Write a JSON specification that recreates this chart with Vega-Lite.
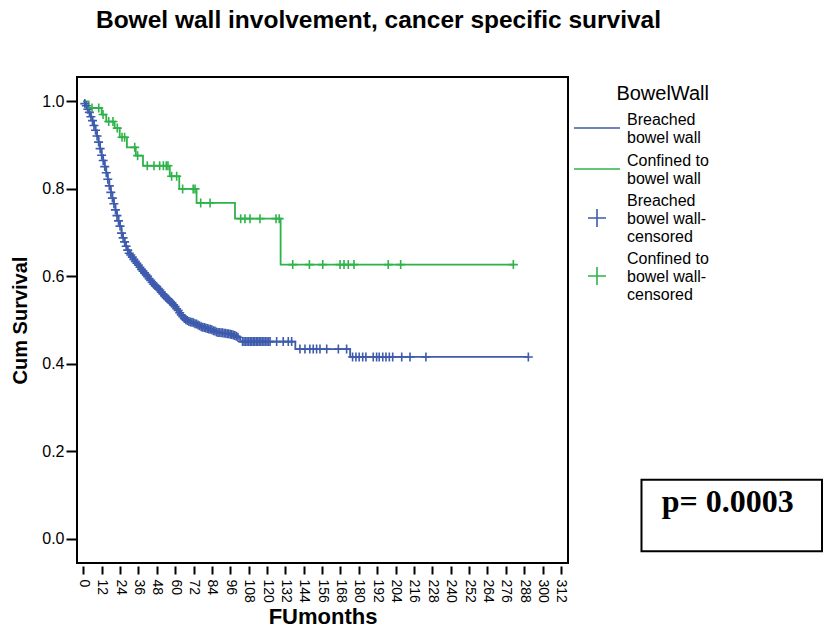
{
  "$schema": "https://vega.github.io/schema/vega-lite/v6.json",
  "autosize": "none",
  "padding": {"left": 77, "top": 77, "right": 256, "bottom": 70},
  "width": 491,
  "height": 486,
  "background": "white",
  "title": {
    "text": "Bowel wall involvement, cancer specific survival",
    "font": "Liberation Sans",
    "fontSize": 24.5,
    "fontWeight": "bold",
    "color": "black",
    "anchor": "middle",
    "dx": 56,
    "offset": 44
  },
  "config": {
    "view": {"stroke": "black", "strokeWidth": 2},
    "axis": {
      "domain": false,
      "grid": false,
      "tickColor": "black",
      "tickWidth": 2,
      "labelColor": "black",
      "titleColor": "black",
      "labelFont": "Liberation Sans",
      "titleFont": "Liberation Sans",
      "titleFontWeight": "bold"
    },
    "legend": {
      "titleFont": "Liberation Sans", "titleFontSize": 20, "titleFontWeight": "normal", "titleColor": "black",
      "labelFont": "Liberation Sans", "labelFontSize": 16, "labelColor": "black"
    }
  },
  "datasets": {
    "lines": [
      {"series": "Breached bowel wall", "t": 0, "s": 1.0},
      {"series": "Breached bowel wall", "t": 1, "s": 0.995},
      {"series": "Breached bowel wall", "t": 2, "s": 0.99},
      {"series": "Breached bowel wall", "t": 3, "s": 0.982},
      {"series": "Breached bowel wall", "t": 4, "s": 0.975},
      {"series": "Breached bowel wall", "t": 5, "s": 0.965},
      {"series": "Breached bowel wall", "t": 6, "s": 0.956},
      {"series": "Breached bowel wall", "t": 7, "s": 0.945},
      {"series": "Breached bowel wall", "t": 8, "s": 0.934},
      {"series": "Breached bowel wall", "t": 9, "s": 0.921},
      {"series": "Breached bowel wall", "t": 10, "s": 0.907},
      {"series": "Breached bowel wall", "t": 11, "s": 0.892},
      {"series": "Breached bowel wall", "t": 12, "s": 0.877},
      {"series": "Breached bowel wall", "t": 13, "s": 0.865},
      {"series": "Breached bowel wall", "t": 14, "s": 0.851},
      {"series": "Breached bowel wall", "t": 15, "s": 0.837},
      {"series": "Breached bowel wall", "t": 16, "s": 0.822},
      {"series": "Breached bowel wall", "t": 17, "s": 0.807},
      {"series": "Breached bowel wall", "t": 18, "s": 0.792},
      {"series": "Breached bowel wall", "t": 19, "s": 0.779},
      {"series": "Breached bowel wall", "t": 20, "s": 0.766},
      {"series": "Breached bowel wall", "t": 21, "s": 0.752},
      {"series": "Breached bowel wall", "t": 22, "s": 0.739},
      {"series": "Breached bowel wall", "t": 23, "s": 0.727},
      {"series": "Breached bowel wall", "t": 24, "s": 0.715},
      {"series": "Breached bowel wall", "t": 25, "s": 0.699},
      {"series": "Breached bowel wall", "t": 26, "s": 0.688},
      {"series": "Breached bowel wall", "t": 27, "s": 0.679},
      {"series": "Breached bowel wall", "t": 28, "s": 0.669},
      {"series": "Breached bowel wall", "t": 29, "s": 0.66},
      {"series": "Breached bowel wall", "t": 30, "s": 0.653},
      {"series": "Breached bowel wall", "t": 31, "s": 0.649},
      {"series": "Breached bowel wall", "t": 32, "s": 0.644},
      {"series": "Breached bowel wall", "t": 33, "s": 0.639},
      {"series": "Breached bowel wall", "t": 34, "s": 0.634},
      {"series": "Breached bowel wall", "t": 35, "s": 0.63},
      {"series": "Breached bowel wall", "t": 36, "s": 0.626},
      {"series": "Breached bowel wall", "t": 37, "s": 0.621},
      {"series": "Breached bowel wall", "t": 38, "s": 0.616},
      {"series": "Breached bowel wall", "t": 39, "s": 0.612},
      {"series": "Breached bowel wall", "t": 40, "s": 0.608},
      {"series": "Breached bowel wall", "t": 41, "s": 0.604},
      {"series": "Breached bowel wall", "t": 42, "s": 0.6},
      {"series": "Breached bowel wall", "t": 43, "s": 0.595},
      {"series": "Breached bowel wall", "t": 44, "s": 0.591},
      {"series": "Breached bowel wall", "t": 45, "s": 0.586},
      {"series": "Breached bowel wall", "t": 46, "s": 0.582},
      {"series": "Breached bowel wall", "t": 47, "s": 0.579},
      {"series": "Breached bowel wall", "t": 48, "s": 0.576},
      {"series": "Breached bowel wall", "t": 49, "s": 0.572},
      {"series": "Breached bowel wall", "t": 50, "s": 0.569},
      {"series": "Breached bowel wall", "t": 51, "s": 0.564},
      {"series": "Breached bowel wall", "t": 52, "s": 0.56},
      {"series": "Breached bowel wall", "t": 53, "s": 0.556},
      {"series": "Breached bowel wall", "t": 54, "s": 0.552},
      {"series": "Breached bowel wall", "t": 55, "s": 0.549},
      {"series": "Breached bowel wall", "t": 56, "s": 0.546},
      {"series": "Breached bowel wall", "t": 57, "s": 0.542},
      {"series": "Breached bowel wall", "t": 58, "s": 0.539},
      {"series": "Breached bowel wall", "t": 59, "s": 0.535},
      {"series": "Breached bowel wall", "t": 60, "s": 0.531},
      {"series": "Breached bowel wall", "t": 61, "s": 0.526},
      {"series": "Breached bowel wall", "t": 62, "s": 0.522},
      {"series": "Breached bowel wall", "t": 63, "s": 0.517},
      {"series": "Breached bowel wall", "t": 64, "s": 0.512},
      {"series": "Breached bowel wall", "t": 65, "s": 0.508},
      {"series": "Breached bowel wall", "t": 66, "s": 0.504},
      {"series": "Breached bowel wall", "t": 67, "s": 0.501},
      {"series": "Breached bowel wall", "t": 68, "s": 0.499},
      {"series": "Breached bowel wall", "t": 69, "s": 0.497},
      {"series": "Breached bowel wall", "t": 70, "s": 0.496},
      {"series": "Breached bowel wall", "t": 71, "s": 0.495},
      {"series": "Breached bowel wall", "t": 72, "s": 0.494},
      {"series": "Breached bowel wall", "t": 73, "s": 0.492},
      {"series": "Breached bowel wall", "t": 74, "s": 0.491},
      {"series": "Breached bowel wall", "t": 75, "s": 0.489},
      {"series": "Breached bowel wall", "t": 76, "s": 0.487},
      {"series": "Breached bowel wall", "t": 77, "s": 0.485},
      {"series": "Breached bowel wall", "t": 78, "s": 0.484},
      {"series": "Breached bowel wall", "t": 79, "s": 0.483},
      {"series": "Breached bowel wall", "t": 80, "s": 0.482},
      {"series": "Breached bowel wall", "t": 81, "s": 0.481},
      {"series": "Breached bowel wall", "t": 82, "s": 0.48},
      {"series": "Breached bowel wall", "t": 83, "s": 0.479},
      {"series": "Breached bowel wall", "t": 84, "s": 0.478},
      {"series": "Breached bowel wall", "t": 85, "s": 0.476},
      {"series": "Breached bowel wall", "t": 86, "s": 0.475},
      {"series": "Breached bowel wall", "t": 87, "s": 0.473},
      {"series": "Breached bowel wall", "t": 88, "s": 0.472},
      {"series": "Breached bowel wall", "t": 90, "s": 0.471},
      {"series": "Breached bowel wall", "t": 92, "s": 0.47},
      {"series": "Breached bowel wall", "t": 94, "s": 0.469},
      {"series": "Breached bowel wall", "t": 96, "s": 0.468},
      {"series": "Breached bowel wall", "t": 97, "s": 0.467},
      {"series": "Breached bowel wall", "t": 98, "s": 0.466},
      {"series": "Breached bowel wall", "t": 99, "s": 0.465},
      {"series": "Breached bowel wall", "t": 100, "s": 0.463},
      {"series": "Breached bowel wall", "t": 101, "s": 0.461},
      {"series": "Breached bowel wall", "t": 102, "s": 0.458},
      {"series": "Breached bowel wall", "t": 102.5, "s": 0.451},
      {"series": "Breached bowel wall", "t": 138.5, "s": 0.434},
      {"series": "Breached bowel wall", "t": 174.3, "s": 0.416},
      {"series": "Breached bowel wall", "t": 291, "s": 0.416},
      {"series": "Confined to bowel wall", "t": 0, "s": 1.0},
      {"series": "Confined to bowel wall", "t": 3.5, "s": 0.985},
      {"series": "Confined to bowel wall", "t": 12, "s": 0.97},
      {"series": "Confined to bowel wall", "t": 15, "s": 0.954},
      {"series": "Confined to bowel wall", "t": 20.5, "s": 0.939},
      {"series": "Confined to bowel wall", "t": 23.8, "s": 0.918},
      {"series": "Confined to bowel wall", "t": 28.5, "s": 0.895},
      {"series": "Confined to bowel wall", "t": 34.3, "s": 0.876},
      {"series": "Confined to bowel wall", "t": 39, "s": 0.853},
      {"series": "Confined to bowel wall", "t": 56.5, "s": 0.829},
      {"series": "Confined to bowel wall", "t": 62.7, "s": 0.8},
      {"series": "Confined to bowel wall", "t": 74, "s": 0.768},
      {"series": "Confined to bowel wall", "t": 99.1, "s": 0.732},
      {"series": "Confined to bowel wall", "t": 128.9, "s": 0.627},
      {"series": "Confined to bowel wall", "t": 281, "s": 0.627}
    ],
    "censored": [
      {"series": "Breached bowel wall-censored", "t": 1, "s": 0.995},
      {"series": "Breached bowel wall-censored", "t": 2, "s": 0.99},
      {"series": "Breached bowel wall-censored", "t": 3, "s": 0.982},
      {"series": "Breached bowel wall-censored", "t": 4, "s": 0.975},
      {"series": "Breached bowel wall-censored", "t": 5, "s": 0.965},
      {"series": "Breached bowel wall-censored", "t": 6, "s": 0.956},
      {"series": "Breached bowel wall-censored", "t": 7, "s": 0.945},
      {"series": "Breached bowel wall-censored", "t": 8, "s": 0.934},
      {"series": "Breached bowel wall-censored", "t": 9, "s": 0.921},
      {"series": "Breached bowel wall-censored", "t": 10, "s": 0.907},
      {"series": "Breached bowel wall-censored", "t": 11, "s": 0.892},
      {"series": "Breached bowel wall-censored", "t": 12, "s": 0.877},
      {"series": "Breached bowel wall-censored", "t": 13, "s": 0.865},
      {"series": "Breached bowel wall-censored", "t": 14, "s": 0.851},
      {"series": "Breached bowel wall-censored", "t": 15, "s": 0.837},
      {"series": "Breached bowel wall-censored", "t": 16, "s": 0.822},
      {"series": "Breached bowel wall-censored", "t": 17, "s": 0.807},
      {"series": "Breached bowel wall-censored", "t": 18, "s": 0.792},
      {"series": "Breached bowel wall-censored", "t": 19, "s": 0.779},
      {"series": "Breached bowel wall-censored", "t": 20, "s": 0.766},
      {"series": "Breached bowel wall-censored", "t": 21, "s": 0.752},
      {"series": "Breached bowel wall-censored", "t": 22, "s": 0.739},
      {"series": "Breached bowel wall-censored", "t": 23, "s": 0.727},
      {"series": "Breached bowel wall-censored", "t": 24, "s": 0.715},
      {"series": "Breached bowel wall-censored", "t": 25, "s": 0.699},
      {"series": "Breached bowel wall-censored", "t": 26, "s": 0.688},
      {"series": "Breached bowel wall-censored", "t": 27, "s": 0.679},
      {"series": "Breached bowel wall-censored", "t": 28, "s": 0.669},
      {"series": "Breached bowel wall-censored", "t": 29, "s": 0.66},
      {"series": "Breached bowel wall-censored", "t": 30, "s": 0.653},
      {"series": "Breached bowel wall-censored", "t": 31, "s": 0.649},
      {"series": "Breached bowel wall-censored", "t": 32, "s": 0.644},
      {"series": "Breached bowel wall-censored", "t": 33, "s": 0.639},
      {"series": "Breached bowel wall-censored", "t": 34, "s": 0.634},
      {"series": "Breached bowel wall-censored", "t": 35, "s": 0.63},
      {"series": "Breached bowel wall-censored", "t": 36, "s": 0.626},
      {"series": "Breached bowel wall-censored", "t": 37, "s": 0.621},
      {"series": "Breached bowel wall-censored", "t": 38, "s": 0.616},
      {"series": "Breached bowel wall-censored", "t": 39, "s": 0.612},
      {"series": "Breached bowel wall-censored", "t": 40, "s": 0.608},
      {"series": "Breached bowel wall-censored", "t": 41, "s": 0.604},
      {"series": "Breached bowel wall-censored", "t": 42, "s": 0.6},
      {"series": "Breached bowel wall-censored", "t": 43, "s": 0.595},
      {"series": "Breached bowel wall-censored", "t": 44, "s": 0.591},
      {"series": "Breached bowel wall-censored", "t": 45, "s": 0.586},
      {"series": "Breached bowel wall-censored", "t": 46, "s": 0.582},
      {"series": "Breached bowel wall-censored", "t": 47, "s": 0.579},
      {"series": "Breached bowel wall-censored", "t": 48, "s": 0.576},
      {"series": "Breached bowel wall-censored", "t": 49, "s": 0.572},
      {"series": "Breached bowel wall-censored", "t": 50, "s": 0.569},
      {"series": "Breached bowel wall-censored", "t": 51, "s": 0.564},
      {"series": "Breached bowel wall-censored", "t": 52, "s": 0.56},
      {"series": "Breached bowel wall-censored", "t": 53, "s": 0.556},
      {"series": "Breached bowel wall-censored", "t": 54, "s": 0.552},
      {"series": "Breached bowel wall-censored", "t": 55, "s": 0.549},
      {"series": "Breached bowel wall-censored", "t": 56, "s": 0.546},
      {"series": "Breached bowel wall-censored", "t": 57, "s": 0.542},
      {"series": "Breached bowel wall-censored", "t": 58, "s": 0.539},
      {"series": "Breached bowel wall-censored", "t": 59, "s": 0.535},
      {"series": "Breached bowel wall-censored", "t": 60, "s": 0.531},
      {"series": "Breached bowel wall-censored", "t": 61, "s": 0.526},
      {"series": "Breached bowel wall-censored", "t": 62, "s": 0.522},
      {"series": "Breached bowel wall-censored", "t": 63, "s": 0.517},
      {"series": "Breached bowel wall-censored", "t": 64, "s": 0.512},
      {"series": "Breached bowel wall-censored", "t": 65, "s": 0.508},
      {"series": "Breached bowel wall-censored", "t": 66, "s": 0.504},
      {"series": "Breached bowel wall-censored", "t": 67, "s": 0.501},
      {"series": "Breached bowel wall-censored", "t": 68, "s": 0.499},
      {"series": "Breached bowel wall-censored", "t": 69, "s": 0.497},
      {"series": "Breached bowel wall-censored", "t": 70, "s": 0.496},
      {"series": "Breached bowel wall-censored", "t": 71, "s": 0.495},
      {"series": "Breached bowel wall-censored", "t": 72, "s": 0.494},
      {"series": "Breached bowel wall-censored", "t": 73, "s": 0.492},
      {"series": "Breached bowel wall-censored", "t": 74, "s": 0.491},
      {"series": "Breached bowel wall-censored", "t": 75, "s": 0.489},
      {"series": "Breached bowel wall-censored", "t": 76, "s": 0.487},
      {"series": "Breached bowel wall-censored", "t": 77, "s": 0.485},
      {"series": "Breached bowel wall-censored", "t": 78, "s": 0.484},
      {"series": "Breached bowel wall-censored", "t": 79, "s": 0.483},
      {"series": "Breached bowel wall-censored", "t": 80, "s": 0.482},
      {"series": "Breached bowel wall-censored", "t": 81, "s": 0.481},
      {"series": "Breached bowel wall-censored", "t": 82, "s": 0.48},
      {"series": "Breached bowel wall-censored", "t": 83, "s": 0.479},
      {"series": "Breached bowel wall-censored", "t": 84, "s": 0.478},
      {"series": "Breached bowel wall-censored", "t": 85, "s": 0.476},
      {"series": "Breached bowel wall-censored", "t": 86, "s": 0.475},
      {"series": "Breached bowel wall-censored", "t": 87, "s": 0.473},
      {"series": "Breached bowel wall-censored", "t": 88, "s": 0.472},
      {"series": "Breached bowel wall-censored", "t": 89, "s": 0.472},
      {"series": "Breached bowel wall-censored", "t": 90, "s": 0.471},
      {"series": "Breached bowel wall-censored", "t": 91, "s": 0.471},
      {"series": "Breached bowel wall-censored", "t": 92, "s": 0.47},
      {"series": "Breached bowel wall-censored", "t": 93, "s": 0.47},
      {"series": "Breached bowel wall-censored", "t": 94, "s": 0.469},
      {"series": "Breached bowel wall-censored", "t": 95, "s": 0.469},
      {"series": "Breached bowel wall-censored", "t": 96, "s": 0.468},
      {"series": "Breached bowel wall-censored", "t": 97, "s": 0.467},
      {"series": "Breached bowel wall-censored", "t": 98, "s": 0.466},
      {"series": "Breached bowel wall-censored", "t": 99, "s": 0.465},
      {"series": "Breached bowel wall-censored", "t": 100, "s": 0.463},
      {"series": "Breached bowel wall-censored", "t": 101, "s": 0.461},
      {"series": "Breached bowel wall-censored", "t": 104, "s": 0.451},
      {"series": "Breached bowel wall-censored", "t": 105, "s": 0.451},
      {"series": "Breached bowel wall-censored", "t": 106, "s": 0.451},
      {"series": "Breached bowel wall-censored", "t": 107, "s": 0.451},
      {"series": "Breached bowel wall-censored", "t": 108, "s": 0.451},
      {"series": "Breached bowel wall-censored", "t": 109, "s": 0.451},
      {"series": "Breached bowel wall-censored", "t": 110, "s": 0.451},
      {"series": "Breached bowel wall-censored", "t": 111, "s": 0.451},
      {"series": "Breached bowel wall-censored", "t": 112, "s": 0.451},
      {"series": "Breached bowel wall-censored", "t": 113, "s": 0.451},
      {"series": "Breached bowel wall-censored", "t": 114, "s": 0.451},
      {"series": "Breached bowel wall-censored", "t": 115, "s": 0.451},
      {"series": "Breached bowel wall-censored", "t": 116, "s": 0.451},
      {"series": "Breached bowel wall-censored", "t": 117, "s": 0.451},
      {"series": "Breached bowel wall-censored", "t": 118, "s": 0.451},
      {"series": "Breached bowel wall-censored", "t": 119, "s": 0.451},
      {"series": "Breached bowel wall-censored", "t": 120, "s": 0.451},
      {"series": "Breached bowel wall-censored", "t": 121, "s": 0.451},
      {"series": "Breached bowel wall-censored", "t": 122, "s": 0.451},
      {"series": "Breached bowel wall-censored", "t": 126.3, "s": 0.451},
      {"series": "Breached bowel wall-censored", "t": 130.6, "s": 0.451},
      {"series": "Breached bowel wall-censored", "t": 133.9, "s": 0.451},
      {"series": "Breached bowel wall-censored", "t": 136.1, "s": 0.451},
      {"series": "Breached bowel wall-censored", "t": 141.5, "s": 0.434},
      {"series": "Breached bowel wall-censored", "t": 144.8, "s": 0.434},
      {"series": "Breached bowel wall-censored", "t": 148, "s": 0.434},
      {"series": "Breached bowel wall-censored", "t": 150.2, "s": 0.434},
      {"series": "Breached bowel wall-censored", "t": 152.4, "s": 0.434},
      {"series": "Breached bowel wall-censored", "t": 154.6, "s": 0.434},
      {"series": "Breached bowel wall-censored", "t": 159, "s": 0.434},
      {"series": "Breached bowel wall-censored", "t": 166.6, "s": 0.434},
      {"series": "Breached bowel wall-censored", "t": 172, "s": 0.434},
      {"series": "Breached bowel wall-censored", "t": 175.9, "s": 0.416},
      {"series": "Breached bowel wall-censored", "t": 178.1, "s": 0.416},
      {"series": "Breached bowel wall-censored", "t": 180.2, "s": 0.416},
      {"series": "Breached bowel wall-censored", "t": 182.5, "s": 0.416},
      {"series": "Breached bowel wall-censored", "t": 184.6, "s": 0.416},
      {"series": "Breached bowel wall-censored", "t": 189.4, "s": 0.416},
      {"series": "Breached bowel wall-censored", "t": 191.6, "s": 0.416},
      {"series": "Breached bowel wall-censored", "t": 193.3, "s": 0.416},
      {"series": "Breached bowel wall-censored", "t": 195.6, "s": 0.416},
      {"series": "Breached bowel wall-censored", "t": 197.7, "s": 0.416},
      {"series": "Breached bowel wall-censored", "t": 199.9, "s": 0.416},
      {"series": "Breached bowel wall-censored", "t": 202.1, "s": 0.416},
      {"series": "Breached bowel wall-censored", "t": 208, "s": 0.416},
      {"series": "Breached bowel wall-censored", "t": 213.4, "s": 0.416},
      {"series": "Breached bowel wall-censored", "t": 223.8, "s": 0.416},
      {"series": "Breached bowel wall-censored", "t": 290.7, "s": 0.416},
      {"series": "Confined to bowel wall-censored", "t": 5.7, "s": 0.985},
      {"series": "Confined to bowel wall-censored", "t": 10.1, "s": 0.985},
      {"series": "Confined to bowel wall-censored", "t": 12.9, "s": 0.97},
      {"series": "Confined to bowel wall-censored", "t": 16.6, "s": 0.954},
      {"series": "Confined to bowel wall-censored", "t": 19.4, "s": 0.954},
      {"series": "Confined to bowel wall-censored", "t": 22.2, "s": 0.939},
      {"series": "Confined to bowel wall-censored", "t": 25.3, "s": 0.918},
      {"series": "Confined to bowel wall-censored", "t": 27, "s": 0.918},
      {"series": "Confined to bowel wall-censored", "t": 33.6, "s": 0.895},
      {"series": "Confined to bowel wall-censored", "t": 35.5, "s": 0.876},
      {"series": "Confined to bowel wall-censored", "t": 41.8, "s": 0.853},
      {"series": "Confined to bowel wall-censored", "t": 46.2, "s": 0.853},
      {"series": "Confined to bowel wall-censored", "t": 49.9, "s": 0.853},
      {"series": "Confined to bowel wall-censored", "t": 52.3, "s": 0.853},
      {"series": "Confined to bowel wall-censored", "t": 54.2, "s": 0.853},
      {"series": "Confined to bowel wall-censored", "t": 55.3, "s": 0.853},
      {"series": "Confined to bowel wall-censored", "t": 57.7, "s": 0.829},
      {"series": "Confined to bowel wall-censored", "t": 61, "s": 0.829},
      {"series": "Confined to bowel wall-censored", "t": 64.9, "s": 0.8},
      {"series": "Confined to bowel wall-censored", "t": 71.8, "s": 0.8},
      {"series": "Confined to bowel wall-censored", "t": 73, "s": 0.8},
      {"series": "Confined to bowel wall-censored", "t": 76.7, "s": 0.768},
      {"series": "Confined to bowel wall-censored", "t": 82.8, "s": 0.768},
      {"series": "Confined to bowel wall-censored", "t": 102.8, "s": 0.732},
      {"series": "Confined to bowel wall-censored", "t": 105.6, "s": 0.732},
      {"series": "Confined to bowel wall-censored", "t": 108.9, "s": 0.732},
      {"series": "Confined to bowel wall-censored", "t": 115.4, "s": 0.732},
      {"series": "Confined to bowel wall-censored", "t": 125.9, "s": 0.732},
      {"series": "Confined to bowel wall-censored", "t": 128, "s": 0.732},
      {"series": "Confined to bowel wall-censored", "t": 136.8, "s": 0.627},
      {"series": "Confined to bowel wall-censored", "t": 147.7, "s": 0.627},
      {"series": "Confined to bowel wall-censored", "t": 156.4, "s": 0.627},
      {"series": "Confined to bowel wall-censored", "t": 167.7, "s": 0.627},
      {"series": "Confined to bowel wall-censored", "t": 170.3, "s": 0.627},
      {"series": "Confined to bowel wall-censored", "t": 173.1, "s": 0.627},
      {"series": "Confined to bowel wall-censored", "t": 176.8, "s": 0.627},
      {"series": "Confined to bowel wall-censored", "t": 199.2, "s": 0.627},
      {"series": "Confined to bowel wall-censored", "t": 207.3, "s": 0.627},
      {"series": "Confined to bowel wall-censored", "t": 280.9, "s": 0.627}
    ],
    "pvalue": [{"label": "p= 0.0003"}]
  },
  "layer": [
    {
      "data": {"name": "lines"},
      "mark": {"type": "line", "interpolate": "step-after", "strokeWidth": 1.8, "clip": true},
      "encoding": {
        "x": {
          "field": "t", "type": "quantitative",
          "scale": {"domain": [-4.1, 316.6], "nice": false, "zero": false},
          "axis": {
            "title": "FUmonths",
            "values": [0, 12, 24, 36, 48, 60, 72, 84, 96, 108, 120, 132, 144, 156, 168, 180, 192, 204, 216, 228, 240, 252, 264, 276, 288, 300, 312],
            "tickCount": 40,
            "labelAngle": 90, "labelAlign": "left", "labelBaseline": "middle", "labelOverlap": false,
            "labelFontSize": 14, "labelPadding": 5, "tickSize": 8, "offset": 3,
            "titleFontSize": 22, "titlePadding": 4
          }
        },
        "y": {
          "field": "s", "type": "quantitative",
          "scale": {"domain": [-0.055, 1.0558], "nice": false, "zero": false},
          "axis": {
            "title": "Cum Survival",
            "values": [0, 0.2, 0.4, 0.6, 0.8, 1.0],
            "tickCount": 10,
            "format": ".1f",
            "labelFontSize": 16, "labelPadding": 2, "tickSize": 11,
            "titleFontSize": 20, "titlePadding": 11
          }
        },
        "color": {
          "field": "series", "type": "nominal",
          "scale": {
            "domain": ["Breached bowel wall", "Confined to bowel wall", "Breached bowel wall-censored", "Confined to bowel wall-censored"],
            "range": ["#3E5BAD", "#2EB34B", "#3E5BAD", "#2EB34B"]
          },
          "legend": {
            "title": "BowelWall",
            "orient": "none", "legendX": 509, "legendY": 7,
            "titleAnchor": "end", "titlePadding": 13,
            "labelLineHeight": 17,
            "labelOffset": 19, "rowPadding": 6,
            "symbolSize": 400, "symbolStrokeWidth": 1.6,
            "labelExpr": "datum.label == 'Breached bowel wall' ? ['Breached', 'bowel wall'] : datum.label == 'Confined to bowel wall' ? ['Confined to', 'bowel wall'] : datum.label == 'Breached bowel wall-censored' ? ['Breached', 'bowel wall-', 'censored'] : ['Confined to', 'bowel wall-', 'censored']",
            "encode": {"labels": {"update": {"dy": {"signal": "indexof(datum.value, 'censored') >= 0 ? -17 : -8.5"}}}}
          }
        }
      }
    },
    {
      "data": {"name": "censored"},
      "mark": {"type": "point", "filled": false, "size": 100, "strokeWidth": 1.6, "opacity": 1, "clip": true},
      "encoding": {
        "x": {"field": "t", "type": "quantitative"},
        "y": {"field": "s", "type": "quantitative"},
        "color": {"field": "series", "type": "nominal"},
        "shape": {
          "field": "series", "type": "nominal",
          "scale": {
            "domain": ["Breached bowel wall", "Confined to bowel wall", "Breached bowel wall-censored", "Confined to bowel wall-censored"],
            "range": ["M-2.3,0H2.3", "M-2.3,0H2.3", "M-0.9,0H0.9M0,-0.9V0.9", "M-0.9,0H0.9M0,-0.9V0.9"]
          },
          "legend": {
            "title": "BowelWall",
            "orient": "none", "legendX": 509, "legendY": 7,
            "titleAnchor": "end", "titlePadding": 13,
            "labelLineHeight": 17,
            "labelOffset": 19, "rowPadding": 6,
            "symbolSize": 400, "symbolStrokeWidth": 1.6,
            "labelExpr": "datum.label == 'Breached bowel wall' ? ['Breached', 'bowel wall'] : datum.label == 'Confined to bowel wall' ? ['Confined to', 'bowel wall'] : datum.label == 'Breached bowel wall-censored' ? ['Breached', 'bowel wall-', 'censored'] : ['Confined to', 'bowel wall-', 'censored']",
            "encode": {"labels": {"update": {"dy": {"signal": "indexof(datum.value, 'censored') >= 0 ? -17 : -8.5"}}}}
          }
        }
      }
    },
    {
      "data": {"name": "pvalue"},
      "mark": {"type": "rect", "filled": false, "stroke": "black", "strokeWidth": 2, "clip": false},
      "encoding": {
        "x": {"datum": 364.6, "type": "quantitative"},
        "x2": {"datum": 482.5},
        "y": {"datum": 0.1353, "type": "quantitative"},
        "y2": {"datum": -0.0281}
      }
    },
    {
      "data": {"name": "pvalue"},
      "mark": {"type": "text", "font": "Liberation Serif", "fontWeight": "bold", "fontSize": 32, "color": "black", "align": "center", "baseline": "alphabetic", "clip": false},
      "encoding": {
        "x": {"datum": 421, "type": "quantitative"},
        "y": {"datum": 0.062, "type": "quantitative"},
        "text": {"field": "label", "type": "nominal"}
      }
    }
  ]
}
